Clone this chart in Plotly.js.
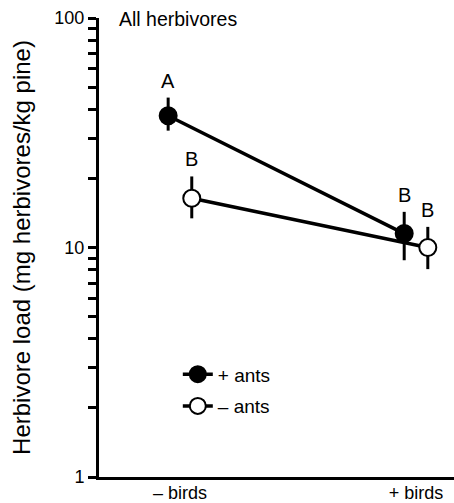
<!DOCTYPE html>
<html><head><meta charset="utf-8">
<script src="https://cdn.plot.ly/plotly-3.0.1.min.js"></script>
<style>html,body{margin:0;padding:0;background:#fff}#c{width:454px;height:503px}</style>
</head><body><div id="c"></div>
<script>
var categories = ['– birds', '+ birds'];
var catPos = [0, 1];
var antsPlus = [37.5, 11.5];
var antsPlusHi = [45, 14.3];
var antsPlusLo = [32.3, 8.8];
var antsMinus = [16.4, 10.0];
var antsMinusHi = [20.4, 12.3];
var antsMinusLo = [13.4, 8.05];
var lettersPlus = ['A', 'B'];
var lettersMinus = ['B', 'B'];
var yTickVals = [1, 2, 3, 4, 5, 6, 7, 8, 9, 10, 20, 30, 40, 50, 60, 70, 80, 90, 100];
var yTickLabeled = [1, 10, 100];
var offset = 0.05;

var font = 'Liberation Sans, Arial, Helvetica, sans-serif';

function mk(name, vals, hi, lo, dx, fill, grp) {
  return {
    x: catPos.map(function(c){return c + dx;}),
    y: vals,
    name: name,
    legendgroup: grp,
    type: 'scatter',
    mode: 'lines+markers',
    line: {color: '#000', width: 3.5},
    marker: {size: 17, color: fill, line: {color: '#000', width: 2}},
    error_y: {type: 'data', symmetric: false,
      array: vals.map(function(v,i){return hi[i]-v;}),
      arrayminus: vals.map(function(v,i){return v-lo[i];}),
      color: '#000', thickness: 3, width: 0},
    cliponaxis: false
  };
}

var traces = [
  mk('+ ants', antsPlus, antsPlusHi, antsPlusLo, -offset, '#000', 'a'),
  mk('– ants', antsMinus, antsMinusHi, antsMinusLo, offset, '#fff', 'b')
];

var annotations = [];
function addLetters(letters, hi, dx) {
  letters.forEach(function(t, i){
    annotations.push({x: catPos[i] + dx, y: Math.log10(hi[i]), xref: 'x', yref: 'y',
      text: t, showarrow: false, yanchor: 'bottom', yshift: 4,
      font: {family: font, size: 20, color: '#000'}});
  });
}
addLetters(lettersPlus, antsPlusHi, -offset);
addLetters(lettersMinus, antsMinusHi, offset);
annotations.push({x: 0.052, y: 1, xref: 'paper', yref: 'paper', xanchor: 'left', yanchor: 'top',
  text: 'All herbivores', showarrow: false, yshift: 12, font: {family: font, size: 19.5, color: '#000'}});

var layout = {
  width: 454, height: 503,
  margin: {l: 99, r: 0, t: 18, b: 26},
  paper_bgcolor: '#fff', plot_bgcolor: '#fff',
  showlegend: true,
  legend: {x: 0.222, y: 0.265, xanchor: 'left', yanchor: 'top', bgcolor: 'rgba(0,0,0,0)',
    font: {family: font, size: 19, color: '#000'}, tracegroupgap: 4, itemwidth: 30},
  xaxis: {range: [-0.343, 1.161], tickvals: catPos, ticktext: categories, ticks: '',
    showgrid: false, zeroline: false, showline: true, linecolor: '#000', linewidth: 3,
    ticklabelstandoff: -3,
    tickfont: {family: font, size: 18, color: '#000'}, fixedrange: true},
  yaxis: {type: 'log', range: [0, 2], tickvals: yTickVals,
    ticktext: yTickVals.map(function(v){return yTickLabeled.indexOf(v) >= 0 ? String(v) : '';}),
    ticks: 'outside', ticklen: 8, tickwidth: 3, tickcolor: '#000',
    showgrid: false, zeroline: false, showline: true, linecolor: '#000', linewidth: 3,
    tickfont: {family: font, size: 18, color: '#000'},
    title: {text: 'Herbivore load (mg herbivores/kg pine)', font: {family: font, size: 24, color: '#000'}, standoff: 17}},
  annotations: annotations
};

Plotly.newPlot('c', traces, layout, {displayModeBar: false, staticPlot: true});
</script></body></html>
